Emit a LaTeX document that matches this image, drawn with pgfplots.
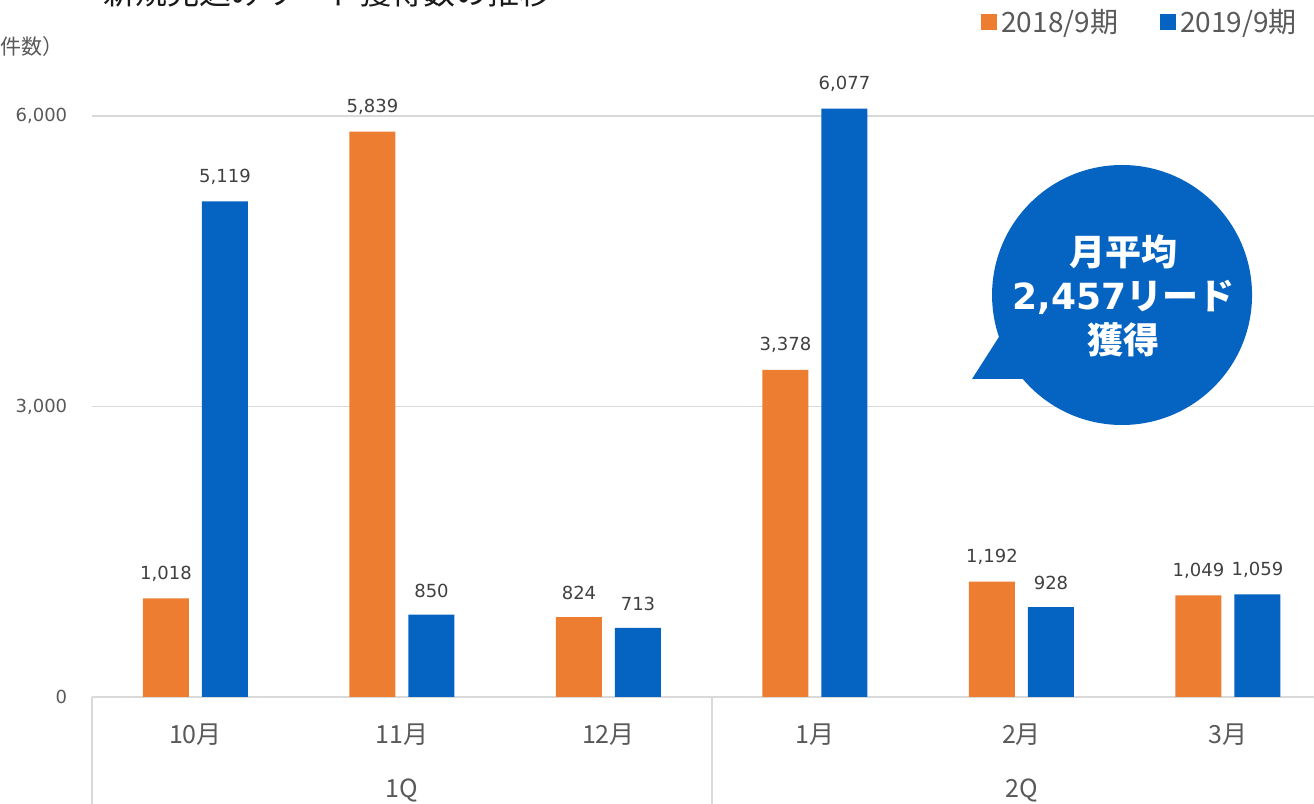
\documentclass[border=0pt]{standalone}
\usepackage{pgfplots}
\pgfplotsset{compat=1.18}
\usepackage{fontspec}
\setmainfont{DejaVu Sans}
\newfontfamily\jp{Noto Sans CJK JP}
\definecolor{c18}{HTML}{ED7D31}
\definecolor{c19}{HTML}{0563C1}
\definecolor{gridc}{HTML}{D9D9D9}
\definecolor{txt}{HTML}{595959}
\definecolor{lbl}{HTML}{404040}
\tikzset{month/.style={font=\jp\fontsize{12.5}{14}\selectfont, text=txt}}
\begin{document}
\begin{tikzpicture}
\useasboundingbox (-46.125pt,0) rectangle (610.875pt,402pt);
\begin{axis}[at={(0,0)}, anchor=south west, scale only axis,
  width=610.875pt, height=402pt,
  xmin=-0.5, xmax=5.4165, ymin=-1105, ymax=7198,
  axis line style={draw=none}, xtick=\empty, ytick={0,3000,6000},
  major tick length=0pt, ymajorgrids, grid style={gridc, line width=0.8pt},
  /pgf/number format/.cd, 1000 sep={,}, assume math mode=true, /pgfplots/.cd,
  yticklabel style={font=\fontsize{9}{10}\selectfont, text=txt, anchor=east, xshift=-9pt},
  legend style={at={(rel axis cs:0.9895,0.9726)}, anchor=east, draw=none, fill=none,
    inner sep=0pt, font=\jp\fontsize{14}{16}\selectfont, text=txt,
    legend columns=2, /tikz/every even column/.append style={column sep=19pt}},
  clip=false]
\addplot[ybar, fill=c18, draw=none, bar width=23pt, bar shift=-14.75pt,
  legend image code/.code={\fill[c18] (0pt,-4pt) rectangle (8pt,4pt);},
  nodes near coords, every node near coord/.append style={font=\fontsize{9}{10}\selectfont, text=lbl, yshift=5pt, xshift=-14.75pt}]
  coordinates {(0,1018)(1,5839)(2,824)(3,3378)(4,1192)(5,1049)};
\addlegendentry{2018/9期}
\addplot[ybar, fill=c19, draw=none, bar width=23pt, bar shift=14.75pt,
  legend image code/.code={\fill[c19] (0pt,-4pt) rectangle (8pt,4pt);},
  nodes near coords, every node near coord/.append style={font=\fontsize{9}{10}\selectfont, text=lbl, yshift=5pt, xshift=14.75pt}]
  coordinates {(0,5119)(1,850)(2,713)(3,6077)(4,928)(5,1059)};
\addlegendentry{2019/9期}
\draw[gridc, line width=0.8pt] (axis cs:-0.5,0) -- (axis cs:-0.5,-1105);
\draw[gridc, line width=0.8pt] (axis cs:2.5,0) -- (axis cs:2.5,-1105);
\node[month] at (axis cs:0,-392) {10月};
\node[month] at (axis cs:1,-392) {11月};
\node[month] at (axis cs:2,-392) {12月};
\node[month] at (axis cs:3,-392) {1月};
\node[month] at (axis cs:4,-392) {2月};
\node[month] at (axis cs:5,-392) {3月};
\node[month] at (axis cs:1.0,-961) {1Q};
\node[month] at (axis cs:4.0,-961) {2Q};
\end{axis}
% title (cut off at the top in the reference)
\node[anchor=base west, inner sep=0pt, font=\jp\fontsize{16}{18}\selectfont, text=black!90]
  at (5.4pt,399.5pt) {新規見込みリード獲得数の推移};
\node[anchor=east, inner sep=0pt, font=\jp\fontsize{10.5}{12}\selectfont, text=txt]
  at (-14pt,378.5pt) {（件数）};
% speech bubble
\fill[c19] (514.9pt,254.5pt) circle (65pt);
\fill[c19] (439.9pt,212.5pt) -- (459.4pt,243pt) -- (468.9pt,212.5pt) -- cycle;
\node[align=center, text=white, font=\bfseries\fontsize{18}{22}\selectfont]
  at (515.5pt,254pt) {{\jp\bfseries 月平均}\\2,457{\jp\bfseries リード}\\{\jp\bfseries 獲得}};
\end{tikzpicture}
\end{document}
